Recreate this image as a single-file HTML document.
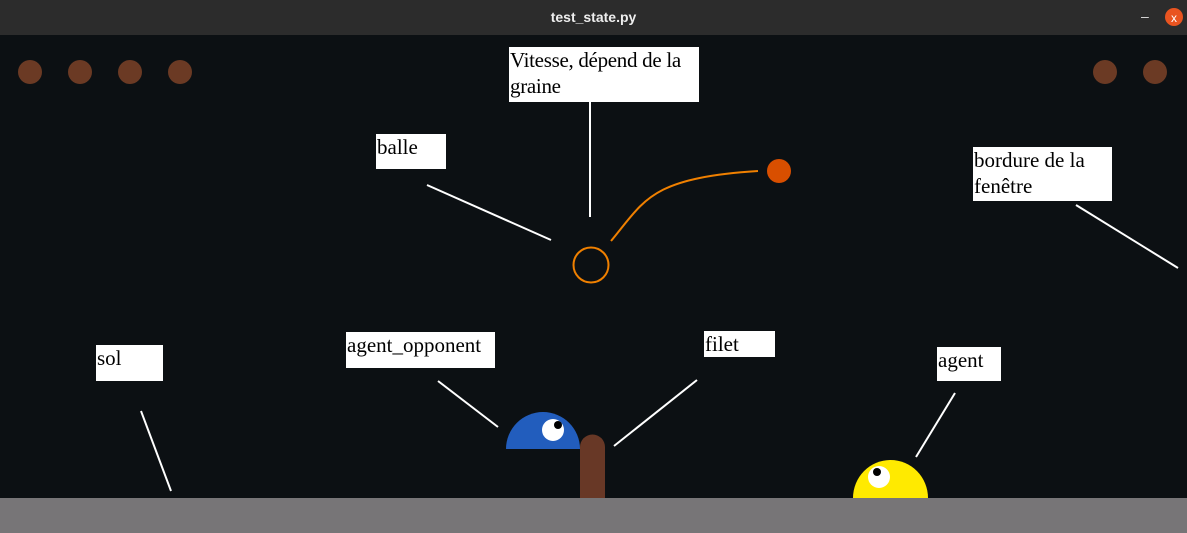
<!DOCTYPE html>
<html><head><meta charset="utf-8"><style>
html,body{margin:0;padding:0;width:1187px;height:533px;overflow:hidden;background:#0c1013}
.bar{position:absolute;left:0;top:0;width:1187px;height:35px;background:#2c2c2c;color:#eee;font:bold 14px "Liberation Sans",sans-serif;text-align:center;line-height:35px}
.lbl{position:absolute;background:#fff;color:#000;font:21px/26px "Liberation Serif",serif;padding:0 1px;box-sizing:border-box;white-space:nowrap;overflow:hidden}
</style></head><body>
<div class="bar">test_state.py</div>
<svg width="1187" height="533" style="position:absolute;left:0;top:0">
<text x="1141" y="21" fill="#ddd" font-family="Liberation Sans" font-size="14">–</text>
<circle cx="1174" cy="17" r="9" fill="#e95420"/>
<text x="1174" y="22" fill="#fff" font-family="Liberation Sans" font-size="12" text-anchor="middle">x</text>
<g fill="#6b3a24">
<circle cx="30" cy="72" r="12"/><circle cx="80" cy="72" r="12"/><circle cx="130" cy="72" r="12"/><circle cx="180" cy="72" r="12"/>
<circle cx="1105" cy="72" r="12"/><circle cx="1155" cy="72" r="12"/>
</g>
<rect x="0" y="498" width="1187" height="35" fill="#777577"/>
<g stroke="#fff" stroke-width="2">
<line x1="590" y1="102" x2="590" y2="217"/>
<line x1="427" y1="185" x2="551" y2="240"/>
<line x1="1076" y1="205" x2="1178" y2="268"/>
<line x1="141" y1="411" x2="171" y2="491"/>
<line x1="438" y1="381" x2="498" y2="427"/>
<line x1="697" y1="380" x2="614" y2="446"/>
<line x1="955" y1="393" x2="916" y2="457"/>
</g>
<circle cx="591" cy="265" r="17.5" fill="none" stroke="#f08000" stroke-width="2"/>
<path d="M611 241 C 645 200, 650 178, 758 171" fill="none" stroke="#f08000" stroke-width="2"/>
<circle cx="779" cy="171" r="12" fill="#d94f00"/>
<path d="M506 449 A37 37 0 0 1 580 449 Z" fill="#225dbd"/>
<circle cx="553" cy="430" r="11" fill="#fff"/><circle cx="558" cy="425" r="4" fill="#000"/>
<path d="M580 498 V447 A12.5 12.5 0 0 1 605 447 V498 Z" fill="#683826"/>
<path d="M853 498 A37.5 38 0 0 1 928 498 Z" fill="#ffea00"/>
<circle cx="879" cy="477" r="11" fill="#fff"/><circle cx="877" cy="472" r="4" fill="#000"/>
</svg>
<div class="lbl" style="left:509px;top:47px;width:190px;height:55px;letter-spacing:-0.3px">Vitesse, dépend de la<br>graine</div>
<div class="lbl" style="left:376px;top:134px;width:70px;height:35px">balle</div>
<div class="lbl" style="left:973px;top:147px;width:139px;height:54px">bordure de la<br>fenêtre</div>
<div class="lbl" style="left:96px;top:345px;width:67px;height:36px">sol</div>
<div class="lbl" style="left:346px;top:332px;width:149px;height:36px">agent_opponent</div>
<div class="lbl" style="left:704px;top:331px;width:71px;height:26px">filet</div>
<div class="lbl" style="left:937px;top:347px;width:64px;height:34px">agent</div>
</body></html>
